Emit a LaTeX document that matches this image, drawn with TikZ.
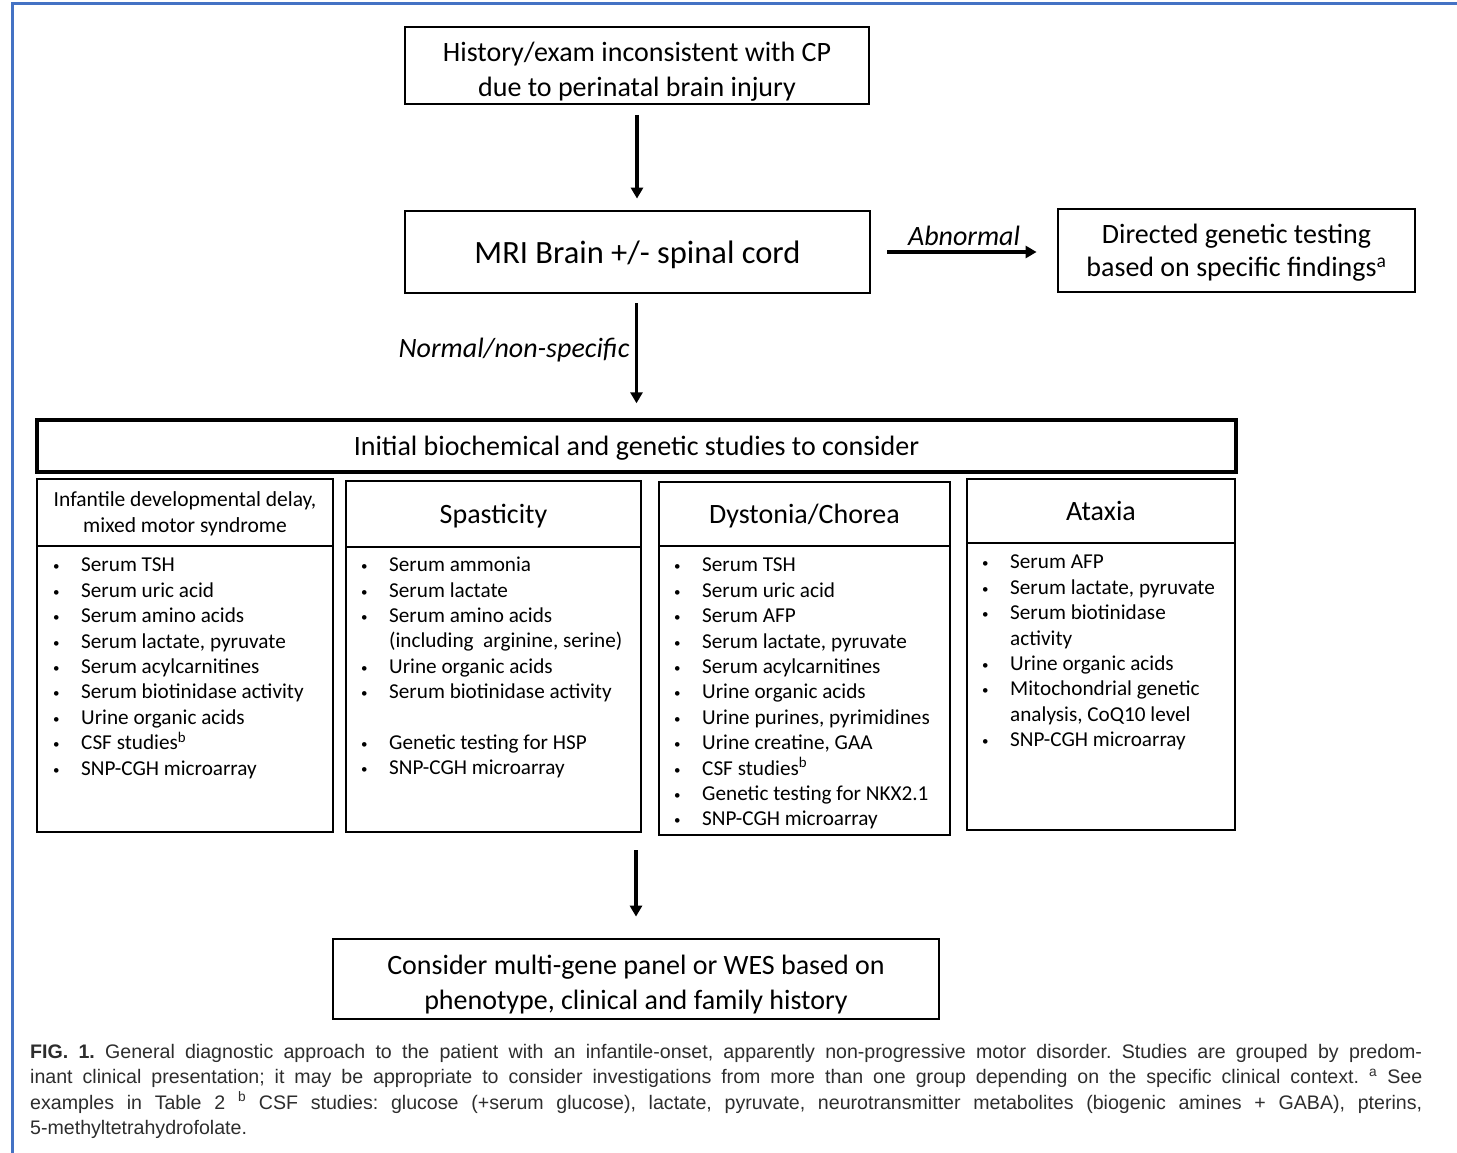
\documentclass[tikz,border=0pt]{standalone}
\usepackage{fontspec}
\setmainfont{Carlito}
\newfontfamily\capfont{Liberation Sans}
\usetikzlibrary{arrows.meta,positioning}

\definecolor{frameblue}{RGB}{68,114,196}
\definecolor{capgray}{RGB}{45,45,45}

\tikzset{
  box/.style={draw, rectangle, align=center, inner sep=0pt, text depth=0pt},
  thinbox/.style={box, line width=1.6pt},
  thickbox/.style={box, line width=2.8pt},
  flow/.style={-{Triangle[length=11pt,width=12pt]}, line width=3.4pt},
  tag/.style={font=\fontsize{28}{32}\selectfont\itshape},
  head/.style={thinbox, font=\fontsize{28}{32}\selectfont},
  listbody/.style={anchor=north west, align=left, inner sep=0pt,
                   font=\fontsize{21.2}{25.4}\selectfont},
}
\newcommand{\itm}{\makebox[29pt][l]{\hspace{1pt}\raisebox{1pt}{\fontsize{13}{13}\selectfont\textbullet}}}
\newcommand{\cont}{\hspace*{29pt}}

\begin{document}
\begin{tikzpicture}[x=1pt,y=-1pt]
  \useasboundingbox (0,0) rectangle (1457,1153);
  \draw[frameblue, line width=3pt] (12,1153) -- (12,4) -- (1457,4);

  % main flow
  \node[thinbox, minimum width=464pt, minimum height=77pt,
        font=\fontsize{28}{35}\selectfont] (hist) at (637,65.5)
        {\rule{0pt}{27pt}History/exam inconsistent with CP\\due to perinatal brain injury};
  \node[thickbox, minimum width=465pt, minimum height=82pt,
        font=\fontsize{32.5}{35}\selectfont] (mri) at (637.5,252)
        {MRI Brain +/- spinal cord};
  \node[thickbox, minimum width=357pt, minimum height=83pt,
        font=\fontsize{28}{33}\selectfont] (dir) at (1236.5,250.5)
        {Directed genetic testing\\based on specific findings\textsuperscript{a}};
  \node[thickbox, line width=3.4pt, minimum width=1199pt, minimum height=52pt,
        font=\fontsize{28}{30}\selectfont] (init) at (636.5,446)
        {Initial biochemical and genetic studies to consider};
  \node[thickbox, minimum width=606pt, minimum height=80pt,
        font=\fontsize{28}{35}\selectfont] (final) at (636,979)
        {\rule{0pt}{25pt}Consider multi-gene panel or WES based on\\phenotype, clinical and family history};

  % groups
  \node[head, minimum width=296pt, minimum height=67pt,
        font=\fontsize{21.5}{26}\selectfont] (infhead) at (185,512.5)
        {Infantile developmental delay,\\mixed motor syndrome};
  \node[thinbox, minimum width=296pt, minimum height=286pt] (infbody) at (185,689) {};
  \node[head, minimum width=295pt, minimum height=66pt] (spahead) at (493.5,514) {Spasticity};
  \node[thinbox, minimum width=295pt, minimum height=285pt] (spabody) at (493.5,689.5) {};
  \node[head, minimum width=291pt, minimum height=64pt] (dyshead) at (804.5,514) {Dystonia/Chorea};
  \node[thinbox, minimum width=291pt, minimum height=289pt] (dysbody) at (804.5,690.5) {};
  \node[head, minimum width=268pt, minimum height=64pt] (atxhead) at (1101,511) {Ataxia};
  \node[thinbox, minimum width=268pt, minimum height=287pt] (atxbody) at (1101,686.5) {};

  \node[listbody] (inflist) at (52,558) {%
    \itm Serum TSH\\ \itm Serum uric acid\\ \itm Serum amino acids\\
    \itm Serum lactate, pyruvate\\ \itm Serum acylcarnitines\\
    \itm Serum biotinidase activity\\ \itm Urine organic acids\\
    \itm CSF studies\textsuperscript{b}\\ \itm SNP-CGH microarray};
  \node[listbody] (spalist) at (360,557) {%
    \itm Serum ammonia\\ \itm Serum lactate\\ \itm Serum amino acids\\
    \cont (including\ \ arginine, serine)\\ \itm Urine organic acids\\
    \itm Serum biotinidase activity\\[25.4pt]
    \itm Genetic testing for HSP\\ \itm SNP-CGH microarray};
  \node[listbody] (dyslist) at (673,558) {%
    \itm Serum TSH\\ \itm Serum uric acid\\ \itm Serum AFP\\
    \itm Serum lactate, pyruvate\\ \itm Serum acylcarnitines\\
    \itm Urine organic acids\\ \itm Urine purines, pyrimidines\\
    \itm Urine creatine, GAA\\ \itm CSF studies\textsuperscript{b}\\
    \itm Genetic testing for NKX2.1\\ \itm SNP-CGH microarray};
  \node[listbody] (atxlist) at (981,555) {%
    \itm Serum AFP\\ \itm Serum lactate, pyruvate\\ \itm Serum biotinidase\\
    \cont activity\\ \itm Urine organic acids\\ \itm Mitochondrial genetic\\
    \cont analysis, CoQ10 level\\ \itm SNP-CGH microarray};

  % connectors
  \coordinate (colsfoot) at (636,832);
  \draw[flow, shorten <=10pt, shorten >=11pt] (hist.south) -- (hist.south |- mri.north);
  \draw[flow, shorten <=16pt, shorten >=20pt] (mri.east) -- (mri.east -| dir.west)
    node[tag, midway, above=1pt] (abn) {Abnormal};
  \draw[flow, shorten <=9pt, shorten >=15pt] (mri.south -| init.north) -- (init.north)
    node[tag, pos=0.45, left=2pt] (norm) {Normal/non-specific};
  \draw[flow, shorten <=18pt, shorten >=21pt] (colsfoot) -- (colsfoot |- final.north);

  % caption
  \node[anchor=north west, inner sep=0pt, text width=1392pt, align=justify,
        text=capgray, font=\capfont\frenchspacing\fontsize{19.6}{25.4}\selectfont] (cap) at (30,1044)
    {\textbf{FIG. 1.} General diagnostic approach to the patient with an infantile-onset, apparently non-progressive motor disorder. Studies are grouped by predom-\linebreak
     inant clinical presentation; it may be appropriate to consider investigations from more than one group depending on the specific clinical context. \textsuperscript{a} See\linebreak
     examples in Table 2 \textsuperscript{b} CSF studies: glucose (+serum glucose), lactate, pyruvate, neurotransmitter metabolites (biogenic amines + GABA), pterins,\linebreak
     5-methyltetrahydrofolate.};
\end{tikzpicture}
\end{document}
